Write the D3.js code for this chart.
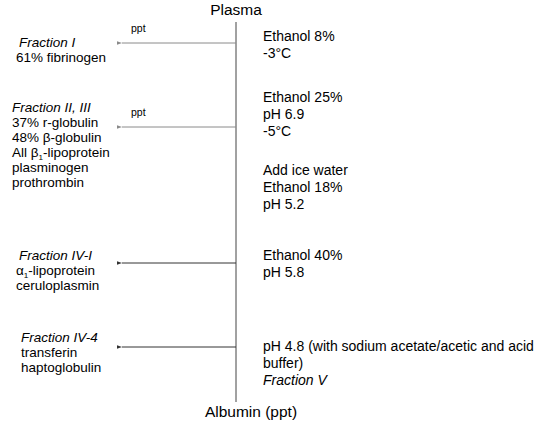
<!DOCTYPE html>
<html>
<head>
<meta charset="utf-8">
<script src="https://cdn.jsdelivr.net/npm/d3@7"></script>
<style>
  body { margin: 0; background: #fff; }
</style>
</head>
<body>
<svg id="chart" width="544" height="427"></svg>
<script>
// Data
var source = "Plasma";
var product = "Albumin (ppt)";
var fractionNames = ["Fraction I", "Fraction II, III", "Fraction IV-I", "Fraction IV-4"];
var fractionContents = [
  ["61% fibrinogen"],
  ["37% r-globulin", "48% β-globulin", "All β_1-lipoprotein", "plasminogen", "prothrombin"],
  ["α_1-lipoprotein", "ceruloplasmin"],
  ["transferin", "haptoglobulin"]
];
var arrowLabels = ["ppt", "ppt", "", ""];
var steps = [
  ["Ethanol 8%", "-3°C"],
  ["Ethanol 25%", "pH 6.9", "-5°C"],
  ["Add ice water", "Ethanol 18%", "pH 5.2"],
  ["Ethanol 40%", "pH 5.8"],
  ["pH 4.8 (with sodium acetate/acetic and acid", "buffer)", "*Fraction V"]
];

// Layout
var svg = d3.select("#chart")
  .attr("font-family", "'Liberation Sans', Arial, sans-serif")
  .attr("fill", "#000");

var trunkX = 236, tipX = 121;
var y = d3.scaleLinear().domain([0, 1]).range([22, 402]);
var arrowY = [43, 127, 263, 347];
var arrowColor = ["#8a8a8a", "#8a8a8a", "#333", "#333"];
var nameX = [19, 12, 19, 21], contentX = [16, 12, 16, 21];
var nameY = [47, 112, 260, 342];
var stepY = [41, 102, 175, 260, 351];

svg.append("defs").selectAll("marker")
  .data(arrowColor)
  .enter().append("marker")
    .attr("id", function(d, i) { return "head" + i; })
    .attr("viewBox", "0 0 10 10")
    .attr("refX", 0).attr("refY", 5)
    .attr("markerUnits", "userSpaceOnUse")
    .attr("markerWidth", 5).attr("markerHeight", 5)
    .attr("orient", "auto-start-reverse")
  .append("path")
    .attr("d", "M0,5L10,1.5L10,8.5Z")
    .attr("fill", function(d) { return d; });

// trunk
svg.append("line")
  .attr("x1", trunkX).attr("x2", trunkX)
  .attr("y1", y(0)).attr("y2", y(1))
  .attr("stroke", "#444").attr("stroke-width", 1);

svg.append("text")
  .attr("x", trunkX).attr("y", 15)
  .attr("text-anchor", "middle")
  .attr("font-size", 15.5)
  .text(source);

svg.append("text")
  .attr("x", 251).attr("y", 417)
  .attr("text-anchor", "middle")
  .attr("font-size", 15.5)
  .text(product);

// arrows
svg.selectAll(".arrow")
  .data(arrowY)
  .enter().append("line")
    .attr("class", "arrow")
    .attr("x1", trunkX).attr("x2", tipX + 1)
    .attr("y1", function(d) { return d; })
    .attr("y2", function(d) { return d; })
    .attr("stroke", function(d, i) { return arrowColor[i]; })
    .attr("stroke-width", 1)
    .attr("marker-end", function(d, i) { return "url(#head" + i + ")"; });

svg.selectAll(".ppt")
  .data(arrowLabels)
  .enter().append("text")
    .attr("class", "ppt")
    .attr("x", 131)
    .attr("y", function(d, i) { return arrowY[i] - 11; })
    .attr("font-size", 10.5)
    .text(function(d) { return d; });

// writes a line, "_x" becomes a subscript, leading "*" means italic
function addLine(g, str, x, yy, size) {
  var t = g.append("text").attr("x", x).attr("y", yy).attr("font-size", size);
  if (str.charAt(0) === "*") { t.attr("font-style", "italic"); str = str.slice(1); }
  var parts = str.split(/_(\w)/);
  parts.forEach(function(p, i) {
    if (i % 2 === 0) {
      t.append("tspan").attr("dy", i ? -2.5 : 0).text(p);
    } else {
      t.append("tspan").attr("dy", 2.5).attr("font-size", size * 0.6).text(p);
    }
  });
}

// fractions (left)
fractionNames.forEach(function(name, i) {
  var g = svg.append("g");
  addLine(g, "*" + name, nameX[i], nameY[i], 13.5);
  fractionContents[i].forEach(function(s, j) {
    addLine(g, s, contentX[i], nameY[i] + 15 * (j + 1), 13.5);
  });
});

// steps (right)
steps.forEach(function(lines, i) {
  var g = svg.append("g");
  lines.forEach(function(s, j) {
    addLine(g, s, 263, stepY[i] + 17 * j, 14);
  });
});
</script>
</body>
</html>
